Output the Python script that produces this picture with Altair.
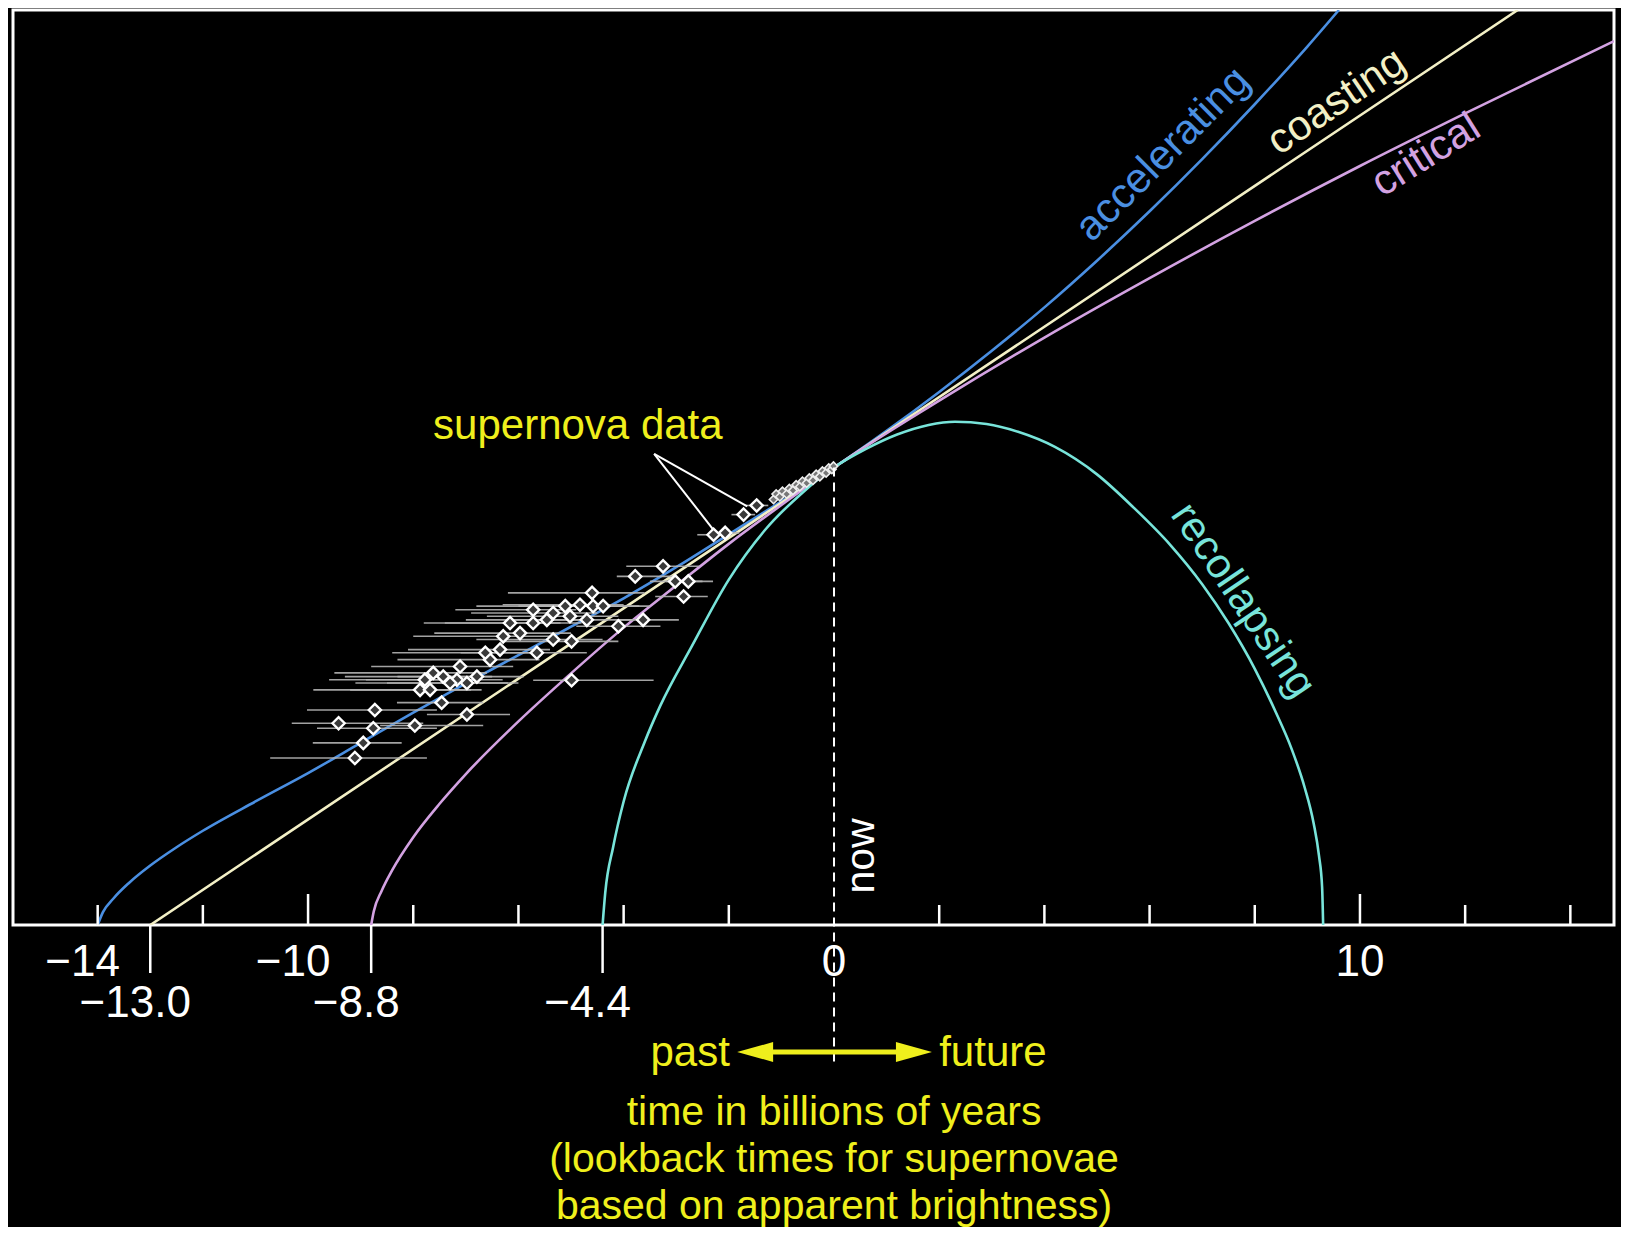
import altair as alt
import pandas as pd

FONT = "Liberation Sans"
YELLOW = "#efef1c"

# ---------------- data (x = time in billions of years, 0 = now; y = relative size, 1 = today)
acc_t = [-14.0, -13.9, -13.7, -13.4, -13.0, -12.5, -12.0, -11.0, -10.0, -9.0, -8.0, -7.0, -6.0,
         -5.0, -4.0, -3.0, -2.0, -1.0, 0.0, 1.0, 2.0, 3.0, 4.0, 5.0, 6.0, 7.0, 8.0, 9.0, 9.6]
acc_y = [0.0, 0.028, 0.058, 0.0925, 0.13, 0.17, 0.206, 0.270, 0.332, 0.398, 0.464, 0.528, 0.590,
         0.652, 0.714, 0.782, 0.854, 0.926, 1.0, 1.08, 1.165, 1.255, 1.35, 1.452, 1.56, 1.674, 1.794, 1.92, 2.0]

coast_t = [-13.0, 0.0, 13.0]
coast_y = [0.0, 1.0, 2.0]

crit_t = [-8.8, -8.75, -8.6, -8.4, -8.0, -7.5, -7.0, -6.0, -5.0, -4.0, -3.0, -2.0, -1.0, 0.0,
          2.0, 4.0, 6.0, 8.0, 10.0, 12.0, 14.83]
crit_y = [0.0, 0.03, 0.075, 0.12, 0.192, 0.265, 0.33, 0.445, 0.55, 0.65, 0.742, 0.833, 0.918, 1.0,
          1.146, 1.284, 1.414, 1.539, 1.659, 1.774, 1.932]

recol_t = [-4.4, -4.35, -4.2, -4.0, -3.6, -3.3, -2.7, -2.0, -1.3, -0.6, 0.0, 0.6, 1.2, 1.8, 2.3,
           2.9, 3.5, 4.2, 5.0, 5.7, 6.4, 7.0, 7.5, 8.0, 8.4, 8.7, 8.95, 9.12, 9.22, 9.28, 9.3]
recol_y = [0.0, 0.07, 0.17, 0.27, 0.40, 0.48, 0.61, 0.755, 0.865, 0.945, 1.0, 1.04, 1.072, 1.093, 1.10,
           1.095, 1.078, 1.045, 0.985, 0.912, 0.83, 0.745, 0.66, 0.56, 0.465, 0.385, 0.30, 0.222, 0.152, 0.083, 0.0]

models = ["accelerating", "coasting", "critical", "recollapsing"]
model_colors = ["#4a8fe2", "#f3f0c6", "#d3a2e2", "#78e4da"]

# supernova lookback times with horizontal error bars
sn_t = [-9.11, -8.95, -8.76, -9.42, -8.73, -7.97, -7.46, -6.98, -4.99, -3.78, -3.25, -3.02, -2.77,
        -2.86, -3.63, -4.10,
        -4.60, -4.58, -4.83, -5.02, -5.11, -5.34, -5.46, -5.72, -5.72, -5.97, -6.16, -6.29, -6.35,
        -6.54, -6.63, -7.11, -7.17, -7.30, -7.43, -7.62, -7.78, -7.87, -7.68, -6.79, -6.98, -5.65,
        -5.34, -4.99, -4.70, -4.39,
        -2.29, -2.07, -1.72, -1.47]
sn_y = [0.365, 0.398, 0.430, 0.441, 0.470, 0.436, 0.486, 0.460, 0.535, 0.762, 0.784, 0.751, 0.751,
        0.718, 0.667, 0.653,
        0.726, 0.697, 0.700, 0.675, 0.697, 0.682, 0.667, 0.689, 0.660, 0.638, 0.660, 0.631, 0.602,
        0.580, 0.595, 0.565, 0.536, 0.529, 0.543, 0.551, 0.536, 0.514, 0.514, 0.543, 0.529, 0.595,
        0.624, 0.620, 0.667, 0.697,
        0.853, 0.857, 0.897, 0.917]
sn_lo = [-10.72, -9.91, -9.83, -10.31, -10.02, -8.63, -8.31, -7.74, -5.72, -4.13, -3.95, -3.50, -3.20,
         -3.40, -4.13, -4.90,
         -6.2, -6.0, -6.3, -6.6, -6.8, -6.9, -7.0, -7.2, -7.4, -7.6, -7.8, -8.0, -8.1,
         -8.3, -8.4, -8.8, -8.9, -9.1, -9.3, -9.5, -9.6, -9.9, -9.2, -8.3, -8.5, -7.1,
         -6.8, -6.3, -6.1, -5.6,
         -2.6, -2.35, -1.95, -1.7]
sn_hi = [-7.74, -8.22, -7.55, -7.81, -7.55, -6.67, -6.67, -6.16, -3.43, -3.05, -2.56, -2.50, -2.30,
         -2.40, -2.95, -3.30,
         -3.6, -3.7, -4.0, -4.1, -4.3, -4.5, -4.6, -4.9, -4.8, -5.0, -5.2, -5.3, -5.4,
         -5.6, -5.7, -6.1, -6.3, -6.2, -6.5, -6.6, -6.8, -6.9, -6.7, -5.9, -6.0, -4.7,
         -4.4, -4.1, -3.8, -3.5,
         -2.0, -1.8, -1.5, -1.25]

# nearby supernovae packed just before "now"
near_t = [-1.15, -1.1, -1.03, -0.98, -0.9, -0.85, -0.78, -0.72, -0.65, -0.6, -0.52, -0.47, -0.4,
          -0.34, -0.27, -0.22, -0.15, -0.1, -0.04, -0.01]
near_y = [0.930, 0.942, 0.936, 0.948, 0.942, 0.954, 0.950, 0.962, 0.958, 0.970, 0.966, 0.977,
          0.972, 0.985, 0.980, 0.992, 0.988, 0.999, 0.996, 1.003]

# axis
minor_ticks = [-14, -12, -8, -6, -4, -2, 2, 4, 6, 8, 12, 14]
major_ticks = [-10, 10]
row1_vals = [-14, -10, 0, 10]
row1_text = ["\u221214", "\u221210", "0", "10"]
row2_vals = [-13.0, -8.8, -4.4]
row2_text = ["\u221213.0", "\u22128.8", "\u22124.4"]

# curve labels
lab_text = ["accelerating", "coasting", "critical", "recollapsing"]
lab_t = [6.25, 9.55, 11.25, 7.78]
lab_y = [1.685, 1.800, 1.683, 0.71]
lab_angle = [315, 326, 328, 56]

title_lines = ["time in billions of years", "(lookback times for supernovae",
               "based on apparent brightness)"]

# ---------------- chart
X = alt.Scale(domain=[-15.61, 14.83], nice=False, zero=False)
Y = alt.Scale(domain=[0.0, 2.0], nice=False, zero=False)


def xq(f="t"):
    return alt.X(f"{f}:Q", scale=X, axis=None)


def yq(f="y"):
    return alt.Y(f"{f}:Q", scale=Y, axis=None)


curve_df = pd.concat([
    pd.DataFrame({"t": acc_t, "y": acc_y, "model": "accelerating"}),
    pd.DataFrame({"t": coast_t, "y": coast_y, "model": "coasting"}),
    pd.DataFrame({"t": crit_t, "y": crit_y, "model": "critical"}),
    pd.DataFrame({"t": recol_t, "y": recol_y, "model": "recollapsing"}),
])

lines = alt.Chart(curve_df).mark_line(strokeWidth=2.6, clip=True, interpolate="monotone").encode(
    x=xq(), y=yq(),
    color=alt.Color("model:N", scale=alt.Scale(domain=models, range=model_colors), legend=None),
    detail="model:N",
)

sn_df = pd.DataFrame({"t": sn_t, "y": sn_y, "lo": sn_lo, "hi": sn_hi})
err = alt.Chart(sn_df).mark_rule(color="#b4b4b4", strokeWidth=1.6, opacity=0.9).encode(
    x=xq("lo"), x2="hi:Q", y=yq())
dots = alt.Chart(sn_df).mark_point(shape="diamond", filled=False, fill="#3a3a3a", fillOpacity=1,
                                   stroke="white", strokeWidth=2.4, size=150, opacity=1).encode(
    x=xq(), y=yq())
near_df = pd.DataFrame({"t": near_t, "y": near_y})
near = alt.Chart(near_df).mark_point(shape="diamond", filled=False, fill="#777777", fillOpacity=1,
                                     stroke="#eeeeee", strokeWidth=1.6, size=70, opacity=1).encode(
    x=xq(), y=yq())

# pointer lines from "supernova data"
ptr_df = pd.DataFrame({"t": [-3.42, -3.42], "y": [1.03, 1.03], "t2": [-2.30, -1.65], "y2": [0.865, 0.915]})
ptr = alt.Chart(ptr_df).mark_rule(color="white", strokeWidth=2).encode(
    x=xq(), y=yq(), x2="t2:Q", y2="y2:Q")
sn_label = alt.Chart(pd.DataFrame({"t": [-4.87], "y": [1.09], "s": ["supernova data"]})).mark_text(
    font=FONT, fontSize=42, color=YELLOW, align="center", baseline="middle").encode(
    x=xq(), y=yq(), text="s:N")

# ticks pointing up into the plot
tick_minor = alt.Chart(pd.DataFrame({"t": minor_ticks})).mark_rule(color="white", strokeWidth=2.5).encode(
    x=xq(), y=alt.value(915), y2=alt.value(895))
tick_major = alt.Chart(pd.DataFrame({"t": major_ticks})).mark_rule(color="white", strokeWidth=2.5).encode(
    x=xq(), y=alt.value(915), y2=alt.value(884))
tick_down = alt.Chart(pd.DataFrame({"t": row2_vals})).mark_rule(color="white", strokeWidth=2.5).encode(
    x=xq(), y=alt.value(915), y2=alt.value(963))

row1 = pd.DataFrame({"t": row1_vals, "s": row1_text})
lab1_neg = alt.Chart(row1[row1.t < 0]).mark_text(font=FONT, fontSize=44, color="white", dx=-15,
                                                 baseline="middle").encode(
    x=xq(), y=alt.value(953), text="s:N")
lab1_pos = alt.Chart(row1[row1.t >= 0]).mark_text(font=FONT, fontSize=44, color="white",
                                                  baseline="middle").encode(
    x=xq(), y=alt.value(953), text="s:N")
lab2 = alt.Chart(pd.DataFrame({"t": row2_vals, "s": row2_text})).mark_text(
    font=FONT, fontSize=44, color="white", dx=-15, baseline="middle").encode(
    x=xq(), y=alt.value(994), text="s:N")

# "now" dashed line
now_line = alt.Chart(pd.DataFrame({"t": [0.0], "y": [1.0]})).mark_rule(
    color="white", strokeWidth=2, strokeDash=[9, 6]).encode(x=xq(), y=yq(), y2=alt.value(1052))
now_text = alt.Chart(pd.DataFrame({"t": [0.53], "s": ["now"]})).mark_text(
    font=FONT, fontSize=41, color="white", angle=270, align="center", baseline="middle").encode(
    x=xq(), y=alt.value(846), text="s:N")

# past / future arrows
arrow_shaft = alt.Chart(pd.DataFrame({"t": [0.0, 0.0], "t2": [-1.5, 1.5]})).mark_rule(
    color=YELLOW, strokeWidth=5).encode(x=xq(), x2="t2:Q", y=alt.value(1042))
head_left = alt.Chart(pd.DataFrame({"t": [-1.5]})).mark_point(
    shape="M-1,0L1,-0.55L1,0.55Z", filled=True, color=YELLOW, size=1296, opacity=1).encode(
    x=xq(), y=alt.value(1042))
head_right = alt.Chart(pd.DataFrame({"t": [1.52]})).mark_point(
    shape="M1,0L-1,-0.55L-1,0.55Z", filled=True, color=YELLOW, size=1296, opacity=1).encode(
    x=xq(), y=alt.value(1042))
past_txt = alt.Chart(pd.DataFrame({"t": [-1.98], "s": ["past"]})).mark_text(
    font=FONT, fontSize=42, color=YELLOW, align="right", baseline="middle").encode(
    x=xq(), y=alt.value(1043), text="s:N")
future_txt = alt.Chart(pd.DataFrame({"t": [2.0], "s": ["future"]})).mark_text(
    font=FONT, fontSize=42, color=YELLOW, align="left", baseline="middle").encode(
    x=xq(), y=alt.value(1043), text="s:N")

title_txt = alt.Chart(pd.DataFrame({"t": [0.0], "s": ["\n".join(title_lines)]})).mark_text(
    font=FONT, fontSize=41, color=YELLOW, align="center", baseline="top", lineHeight=47,
    lineBreak="\n").encode(x=xq(), y=alt.value(1083), text="s:N")

# curve labels
lab_df = pd.DataFrame({"t": lab_t, "y": lab_y, "s": lab_text, "a": lab_angle})
curve_labels = alt.Chart(lab_df).mark_text(font=FONT, fontSize=42, align="center",
                                           baseline="middle").encode(
    x=xq(), y=yq(), text="s:N", angle=alt.Angle("a:Q", scale=None),
    color=alt.Color("s:N", scale=alt.Scale(domain=models, range=model_colors), legend=None))

chart = alt.layer(
    lines, err, dots, near, ptr, sn_label,
    tick_minor, tick_major, tick_down, lab1_neg, lab1_pos, lab2,
    now_line, now_text, arrow_shaft, head_left, head_right, past_txt, future_txt, title_txt,
    curve_labels,
).resolve_scale(color="independent").properties(
    width=1601, height=915, background="black",
    padding={"left": 5, "top": 2, "right": 7, "bottom": 302},
    autosize=alt.AutoSizeParams(type="none"),
).configure_view(stroke="white", strokeWidth=3, fill="black")

chart.save("out.html", embed_options={"renderer": "svg", "actions": False})
